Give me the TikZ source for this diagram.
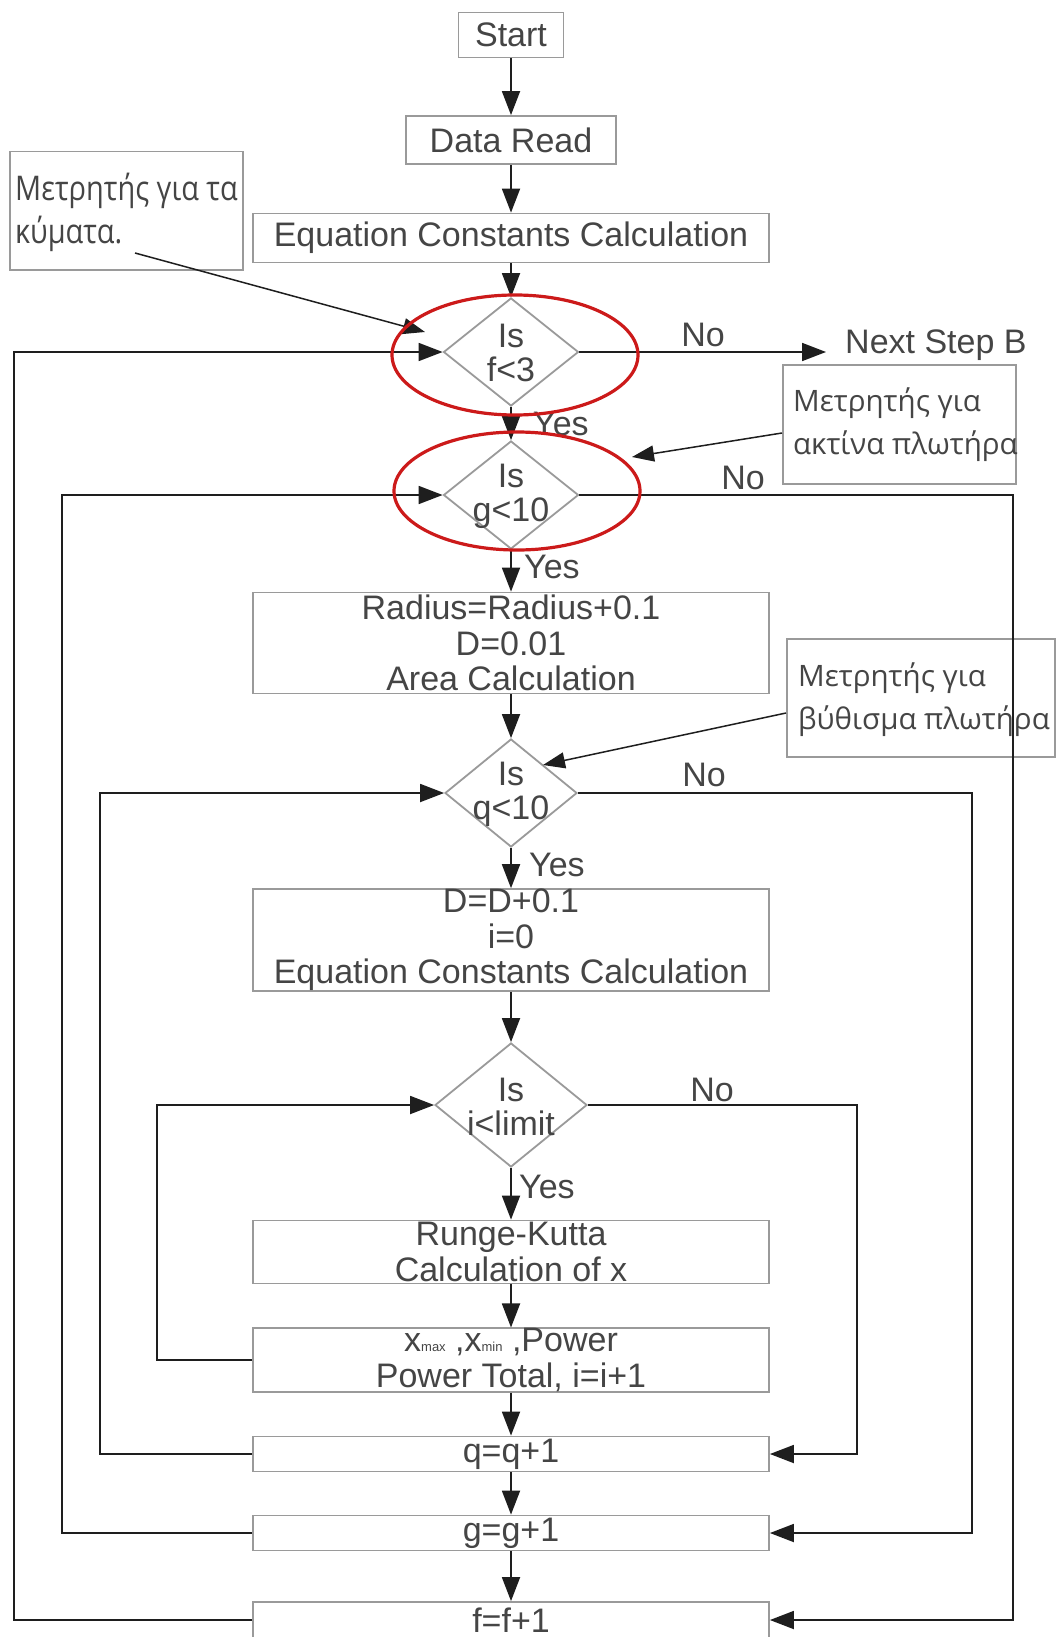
\documentclass[tikz,border=0pt]{standalone}
\usepackage{fontspec}
\setmainfont{Liberation Sans}
\newfontfamily\notefont{Open Sans}
\newfontfamily\narrowfont[FakeStretch=0.85]{Open Sans}
\usetikzlibrary{shapes.geometric,arrows.meta}

\definecolor{txt}{HTML}{454545}
\definecolor{frame}{HTML}{9A9A9A}
\definecolor{wire}{HTML}{1E1E1E}
\definecolor{ringred}{HTML}{CC1A1A}

\begin{document}
\begin{tikzpicture}[x=1pt,y=-1pt,
  every node/.style={inner sep=0pt, text=txt},
  lbl/.style={font=\fontsize{34}{36}\selectfont},
  box/.style={draw=frame, line width=1.8pt, fill=white, align=center,
              font=\fontsize{34}{35.5}\selectfont, minimum width=516pt},
  dia/.style={diamond, draw=frame, line width=1.8pt, fill=white},
  dtext/.style={align=center, font=\fontsize{34}{34}\selectfont},
  note/.style={draw=frame, line width=1.5pt, fill=white, anchor=north west},
  notetext/.style={anchor=west, align=left, font=\notefont\fontsize{29.5}{43}\selectfont},
  flow/.style={draw=wire, line width=1.8pt, -{Triangle[length=24pt,width=18pt]}},
  pointer/.style={draw=wire, line width=1.5pt, -{Triangle[length=22pt,width=16pt]}},
  ring/.style={draw=ringred, line width=3.2pt}
]
% canvas
\fill[white] (0,0) rectangle (1055,1637);
\useasboundingbox (0,0) rectangle (1055,1637);

% main column
\node[box, minimum width=105pt, minimum height=45pt] (start) at (511,35) {Start};
\node[box, minimum width=210pt, minimum height=48pt] (read) at (511,140) {Data Read};
\node[box, minimum height=49pt] (ecc) at (511,238) {Equation Constants Calculation};

\node[dia, minimum width=135pt, minimum height=108pt] (df) at (511,352) {};
\node[dtext] (dft) at (511,353) {Is\\f<3};

\node[dia, minimum width=135pt, minimum height=108pt] (dg) at (511,495) {};
\node[dtext] (dgt) at (511,496) {Is\\g<10};

\node[box, minimum height=101pt] (rad) at (511,643)
  {Radius=Radius+0.1\\D=0.01\\Area Calculation};

\node[dia, minimum width=132pt, minimum height=108pt] (dq) at (511,793) {};
\node[dtext] (dqt) at (511,794) {Is\\q<10};

\node[box, minimum height=101pt] (dbox) at (511,940)
  {D=D+0.1\\i=0\\Equation Constants Calculation};

\node[dia, minimum width=152pt, minimum height=124pt] (di) at (511,1105) {};
\node[dtext] (dit) at (511,1107) {Is\\i<limit};

\node[box, minimum height=63pt] (rk) at (511,1252) {Runge-Kutta\\Calculation of x};
\node[box, minimum height=63pt] (pow) at (511,1360)
  {x{\fontsize{13}{13}\selectfont max} ,x{\fontsize{13}{13}\selectfont min} ,Power\\Power Total, i=i+1};
\node[box, minimum height=35pt] (qinc) at (511,1454) {q=q+1};
\node[box, minimum height=35pt] (ginc) at (511,1533) {g=g+1};
\node[box, minimum height=36pt] (finc) at (511,1620) {f=f+1};

% remarks
\node[note, minimum width=233pt, minimum height=118pt] (noteA) at (9,151) {};
\node[notetext, font=\narrowfont\fontsize{34}{43}\selectfont] (noteAt) at (15,212)
  {Μετρητής για τα\\κύματα.};
\node[note, minimum width=233pt, minimum height=119pt] (noteB) at (782,364) {};
\node[notetext] (noteBt) at (793,425) {Μετρητής για\\ακτίνα πλωτήρα};
\node[note, minimum width=268pt, minimum height=118pt] (noteC) at (786,638) {};
\node[notetext] (noteCt) at (798,700) {Μετρητής για\\βύθισμα πλωτήρα};

% branch labels
\node[lbl] (no1) at (703,335) {No};
\node[lbl] (no2) at (743,478) {No};
\node[lbl] (no3) at (704,775) {No};
\node[lbl] (no4) at (712,1090) {No};
\node[lbl, anchor=west] (yes1) at (533,424) {Yes};
\node[lbl, anchor=west] (yes2) at (524,567) {Yes};
\node[lbl, anchor=west] (yes3) at (529,865) {Yes};
\node[lbl, anchor=west] (yes4) at (519,1187) {Yes};
\node[lbl, anchor=west] (next) at (845,345) {Next Step B};

% helper points
\coordinate (nexttip) at (826,352);
\coordinate (railF) at (14,0);
\coordinate (railG) at (62,0);
\coordinate (railQ) at (100,0);
\coordinate (railI) at (157,0);
\coordinate (railIr) at (857,0);
\coordinate (railQr) at (972,0);
\coordinate (railGr) at (1013,0);
\coordinate (srcA) at (135,253);
\coordinate (tipA) at (425,332);
\coordinate (srcB) at (782,433);
\coordinate (tipB) at (632,457);
\coordinate (srcC) at (786,713);
\coordinate (tipC) at (543,765);

% straight flow
\draw[flow] (start) -- (read);
\draw[flow] (read) -- (ecc);
\draw[flow] (ecc) -- (df);
\draw[flow] (df) -- (dg);
\draw[flow] (dg) -- (rad);
\draw[flow] (rad) -- (dq);
\draw[flow] (dq) -- (dbox);
\draw[flow] (dbox) -- (di);
\draw[flow] (di) -- (rk);
\draw[flow] (rk) -- (pow);
\draw[flow] (pow) -- (qinc);
\draw[flow] (qinc) -- (ginc);
\draw[flow] (ginc) -- (finc);
\draw[flow] (df.east) -- (nexttip);

% loop-back rails on the left
\draw[flow] (finc.west) -- (finc.west -| railF) |- (df.west);
\draw[flow] (ginc.west) -- (ginc.west -| railG) |- (dg.west);
\draw[flow] (qinc.west) -- (qinc.west -| railQ) |- (dq.west);
\draw[flow] (pow.west) -- (pow.west -| railI) |- (di.west);

% exits on the right
\draw[flow] (di.east) -- (di.east -| railIr) |- (qinc.east);
\draw[flow] (dq.east) -- (dq.east -| railQr) |- (ginc.east);
\draw[flow] (dg.east) -- (dg.east -| railGr) |- (finc.east);

% remark pointers
\draw[pointer] (srcA) -- (tipA);
\draw[pointer] (srcB) -- (tipB);
\draw[pointer] (srcC) -- (tipC);

% highlighted counters
\draw[ring] (515,355) ellipse [x radius=123pt, y radius=60pt];
\draw[ring] (517,491) ellipse [x radius=123pt, y radius=59pt];
\end{tikzpicture}
\end{document}
